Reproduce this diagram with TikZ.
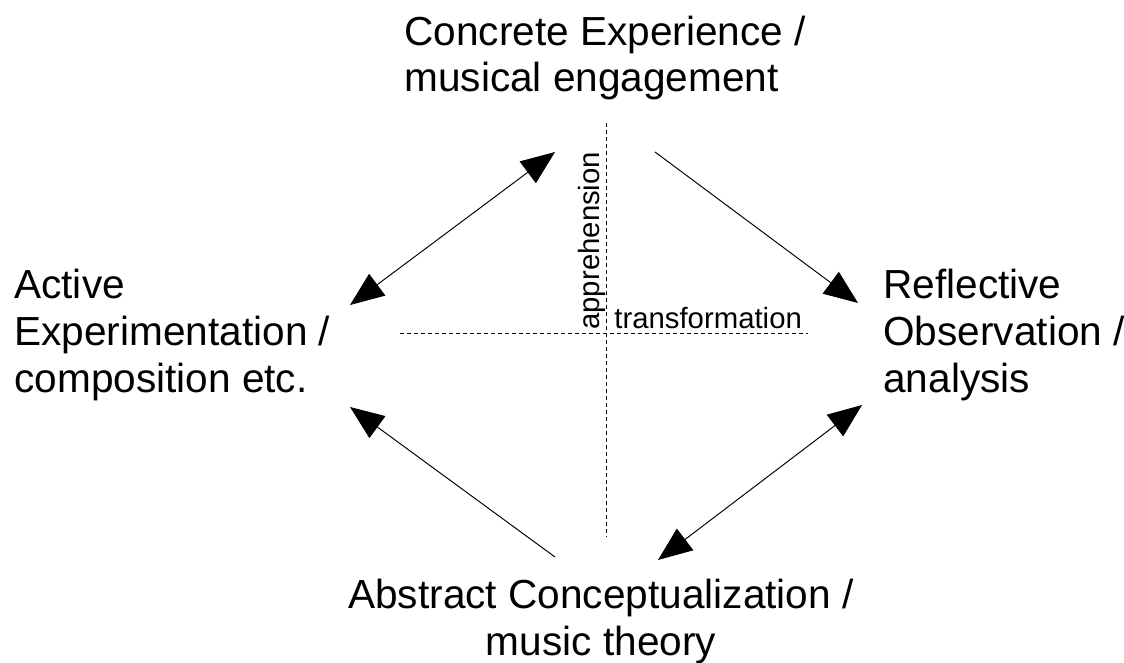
\documentclass[tikz,border=0pt]{standalone}
\usepackage{fontspec}
\setmainfont{Liberation Sans}
\usetikzlibrary{arrows.meta,calc}

\begin{document}
\begin{tikzpicture}[x=0.02cm,y=-0.02cm,
        stage/.style={font=\fontsize{23.1}{26.5}\selectfont, align=left, inner sep=0pt},
        axislabel/.style={font=\fontsize{16.7}{20}\selectfont, inner sep=0pt},
        guide/.style={line width=0.4pt, dash pattern=on 0.08cm off 0.06cm},
        flow/.style={line width=0.55pt, -{Triangle[length=0.68cm,width=0.54cm]}},
        twoway/.style={line width=0.55pt, {Triangle[length=0.68cm,width=0.54cm]}-{Triangle[length=0.68cm,width=0.54cm]}}]
    \useasboundingbox (0,0) rectangle (1124,662);

    % the four stages of the cycle (base = last line)
    \node (ce) [stage, anchor=base west] at (404,92) {Concrete Experience /\\musical engagement};
    \node (ae) [stage, anchor=base west] at (14,392) {Active\\Experimentation /\\composition etc.};
    \node (ro) [stage, anchor=base west] at (883,392) {Reflective\\Observation /\\analysis};
    \node (ac) [stage, anchor=base, align=center] at (601,655) {Abstract Conceptualization /\\music theory};

    % the two axes
    \coordinate (vtop) at (606,123);
    \coordinate (vbot) at (606,537);
    \coordinate (hleft) at (400,333);
    \coordinate (hright) at (808,333);
    \draw [guide] (vtop) -- (vbot);
    \draw [guide] (hleft) -- (hright);
    \node (appr) [axislabel, rotate=90, anchor=base west] at (599,330) {apprehension};
    \node (transf) [axislabel, anchor=base west] at (614,328) {transformation};

    % arrow ends
    \coordinate (ce-l) at (555,152);
    \coordinate (ce-r) at (655,152);
    \coordinate (ae-t) at (350,305);
    \coordinate (ae-b) at (350,407);
    \coordinate (ro-t) at (858,303);
    \coordinate (ro-b) at (862,405);
    \coordinate (ac-l) at (555,557);
    \coordinate (ac-r) at (658,560);

    \draw [twoway] (ce-l) -- (ae-t);
    \draw [flow] (ce-r) -- (ro-t);
    \draw [twoway] (ro-b) -- (ac-r);
    \draw [flow] (ac-l) -- (ae-b);
\end{tikzpicture}
\end{document}
